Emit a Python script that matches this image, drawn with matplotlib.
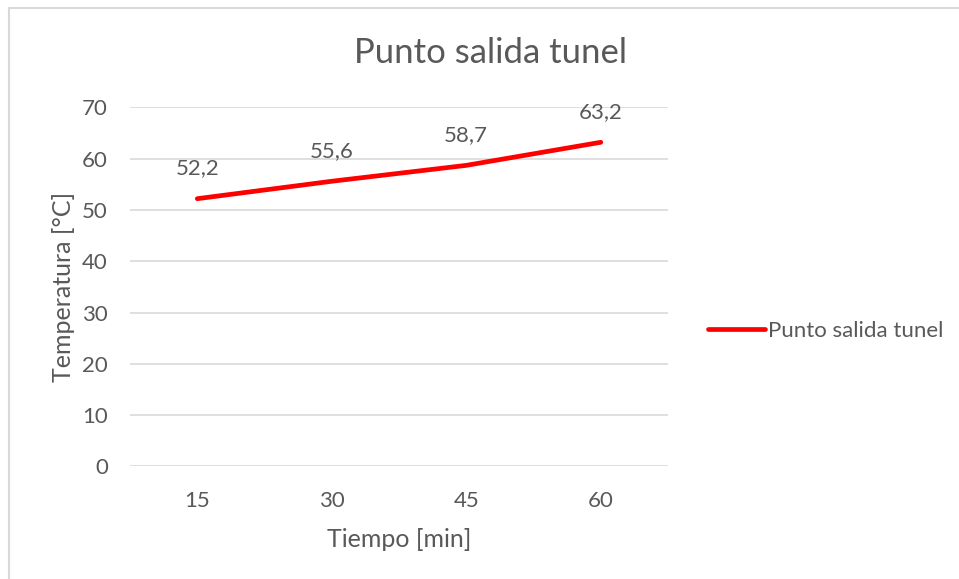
import matplotlib.pyplot as plt
from matplotlib.patches import Rectangle

# Data
tiempo = ["15", "30", "45", "60"]
temperatura = [52.2, 55.6, 58.7, 63.2]
serie = "Punto salida tunel"
y_ticks = [0, 10, 20, 30, 40, 50, 60, 70]

TEXT_COLOR = "#595959"
GRID_COLOR = "#d9d9d9"

plt.rcParams["font.family"] = ["Lato", "DejaVu Sans"]

fig = plt.figure(figsize=(9.59, 5.79), dpi=100)
ax = fig.add_axes([0.1356, 0.1945, 0.561, 0.620])

# chart frame (top/left edges only show)
fig.patches.append(Rectangle((9 / 959, -0.1), 1.2, 1 - 8 / 579 + 0.1,
                             transform=fig.transFigure, fill=False,
                             edgecolor=GRID_COLOR, linewidth=1.5))

x = list(range(len(tiempo)))
ax.plot(x, temperatura, color="#ff0000", linewidth=3.4,
        solid_capstyle="round", label=serie, zorder=3)

for xi, v in zip(x, temperatura):
    ax.annotate(f"{v:.1f}".replace(".", ","), (xi, v), xytext=(0, 22),
                textcoords="offset points", ha="center", va="center",
                fontsize=16, color=TEXT_COLOR)

ax.set_xlim(-0.5, len(tiempo) - 0.5)
ax.set_ylim(0, 70)
ax.set_xticks(x)
ax.set_xticklabels(tiempo)
ax.set_yticks(y_ticks)
ax.tick_params(axis="both", length=0, labelsize=16, labelcolor=TEXT_COLOR)
ax.tick_params(axis="x", pad=18)
ax.tick_params(axis="y", pad=16)

ax.grid(axis="y", color=GRID_COLOR, linewidth=1.2)
ax.set_axisbelow(True)
for side in ax.spines.values():
    side.set_visible(False)

ax.set_xlabel("Tiempo [min]", fontsize=18, color=TEXT_COLOR, labelpad=12)
ax.set_ylabel("Temperatura [°C]", fontsize=18, color=TEXT_COLOR, labelpad=5)

fig.text(490 / 959, 1 - 53 / 579, serie, ha="center", va="center",
         fontsize=25, color=TEXT_COLOR)

ax.legend(loc="center left", bbox_to_anchor=(708 / 959, 1 - 331 / 579),
          bbox_transform=fig.transFigure, frameon=False, fontsize=16,
          handlelength=2.55, handletextpad=0.15, borderpad=0, borderaxespad=0,
          labelcolor=TEXT_COLOR)

fig.savefig("out.png", dpi=100)
